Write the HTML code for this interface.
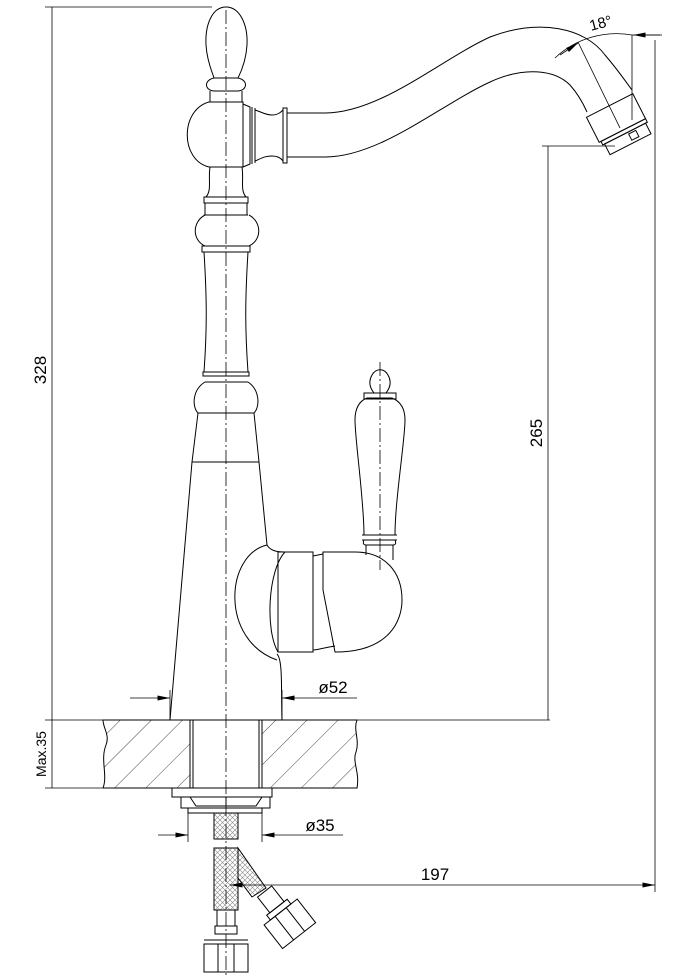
<!DOCTYPE html>
<html><head><meta charset="utf-8"><style>
html,body{margin:0;padding:0;background:#fff}
svg{display:block}
text{font-family:"Liberation Sans",sans-serif;fill:#000}
</style></head><body>
<svg width="693" height="978" viewBox="0 0 693 978" xmlns="http://www.w3.org/2000/svg">
<defs>
<pattern id="hatch" width="22" height="22" patternUnits="userSpaceOnUse" patternTransform="rotate(45)">
<line x1="0" y1="0" x2="0" y2="22" stroke="#333" stroke-width="0.9"/>
</pattern>
<pattern id="mesh" width="5" height="5" patternUnits="userSpaceOnUse">
<rect width="5" height="5" fill="#fff"/>
<path d="M0 0L5 5M5 0L0 5" stroke="#888" stroke-width="0.6"/>
</pattern>
<marker id="ar" viewBox="0 0 10 4" refX="10" refY="2" markerWidth="14" markerHeight="5" orient="auto" markerUnits="userSpaceOnUse"><path d="M0 0L10 2L0 4Z" fill="#000"/></marker>
</defs>
<g fill="none" stroke="#000" stroke-width="1">
<!-- finial -->
<path d="M226 7C212 7 205 25 206 45C207 62 213 74 214 78L238 78C240 74 246 62 247 45C248 25 240 7 226 7Z"/>
<path d="M214 78C204 80 204 90 214 91L238 91C248 90 248 80 238 78"/>
<line x1="210" y1="91" x2="210" y2="102"/><line x1="242" y1="91" x2="242" y2="102"/>
<!-- ball -->
<path d="M209 102C180 110 180 160 209 167L243 167L243 102Z"/>
<!-- spout connector -->
<path d="M243 104L250 107L250 164L243 167"/>
<line x1="252" y1="107" x2="252" y2="164"/><line x1="255" y1="108" x2="255" y2="163"/>
<path d="M255 110C262 112 265 115 272 115C278 115 281 112 283 110"/>
<path d="M255 161C262 158 265 156 272 156C278 156 281 158 283 161"/>
<rect x="283" y="108" width="4" height="55"/>
<line x1="287" y1="112" x2="287" y2="160"/>
<!-- spout tube -->
<path d="M287 113L325 113C380 113 440 60 490 37C540 18 585 28 605 55C618 70 626 82 632 90"/>
<path d="M287 157L325 157C380 157 440 105 490 82C525 66 555 70 570 85C578 94 583 103 587 112"/>
<line x1="578" y1="42" x2="620" y2="128" stroke-width="0.8"/>
<!-- aerator -->
<g transform="rotate(-27 616 118)">
<rect x="590" y="104" width="52" height="28"/>
<rect x="592" y="132" width="50" height="4"/>
<rect x="594" y="136" width="46" height="12"/>
<rect x="620" y="138" width="8" height="7"/>
</g>
<!-- lower neck -->
<path d="M210 167C208 180 212 190 206 197M242 167C244 180 240 190 246 197"/>
<rect x="204" y="197" width="44" height="6"/><line x1="204" y1="215" x2="248" y2="215"/>
<path d="M205 203L205 215M247 203L247 215"/>
<path d="M205 215C192 222 192 240 205 246L249 246C262 240 262 222 249 215"/>
<rect x="202" y="246" width="48" height="6"/>
<path d="M204 252C207 300 207 330 204 372M248 252C245 300 245 330 248 372"/>
<rect x="203" y="372" width="46" height="4"/>
<line x1="205" y1="382" x2="248" y2="382"/>
<path d="M205 382C192 390 192 407 198 413L254 413C260 407 260 390 248 382"/>
<path d="M198 413L192 462M254 413L259 462"/>
<line x1="192" y1="462" x2="259" y2="462"/>
<!-- body -->
<path d="M192 462L170 720"/>
<path d="M259 462L267 545C270 550 275 552 285 552"/>
<path d="M277 654C283 660 281 690 282 720"/>
<!-- handle housing -->
<path d="M267 545C225 555 220 640 277 660"/>
<path d="M285 552C268 570 265 630 278 652"/>
<rect x="278" y="552" width="35" height="100"/>
<path d="M313 556L323 554M313 650C318 650 322 648 335 646"/>
<path d="M323 552L323 590L335 652C390 652 402 620 402 600C402 572 385 552 355 552Z"/>
<!-- handle lever -->
<line x1="366" y1="545" x2="366" y2="555"/><line x1="393" y1="545" x2="393" y2="560"/>
<path d="M364 540Q362 545 366 545L393 545Q397 545 395 540Z"/>
<line x1="362" y1="535" x2="397" y2="535"/><line x1="362" y1="540" x2="397" y2="540"/>
<path d="M364 535C364 500 355 440 355 420C355 405 362 400 367 398L392 398C397 400 405 405 405 420C405 440 395 500 395 535"/>
<rect x="364" y="393" width="32" height="6"/>
<path d="M374 393C370 388 368 382 372 375C376 368 384 368 388 375C392 382 390 388 386 393"/>
<!-- countertop -->
<path d="M103 720L190 720L190 788L103 788C108 775 100 760 106 745C110 735 103 728 103 720Z" fill="url(#hatch)"/>
<path d="M262 720L357 720C353 730 360 740 356 752C352 762 360 772 357 788L262 788Z" fill="url(#hatch)"/>
<line x1="190" y1="720" x2="262" y2="720"/><line x1="190" y1="788" x2="262" y2="788"/>
<line x1="193" y1="720" x2="193" y2="788"/><line x1="259" y1="720" x2="259" y2="788"/>
<!-- nut -->
<rect x="172" y="788" width="100" height="9"/>
<path d="M181 797L181 808L270 808L270 797"/>
<path d="M190 797L196 806L256 806L262 797M226 797L226 806"/>
<rect x="188" y="808" width="74" height="5"/>
<!-- hoses -->
<rect x="214" y="813" width="24" height="26" fill="url(#mesh)"/>
<rect x="214" y="848" width="24" height="62" fill="url(#mesh)"/>
<path d="M238 848L266 888L252 897L238 878Z" fill="url(#mesh)"/>
<rect x="217" y="910" width="18" height="16"/>
<rect x="215" y="926" width="22" height="8"/>
<rect x="204" y="944" width="44" height="28"/>
<line x1="218" y1="944" x2="218" y2="972"/><line x1="234" y1="944" x2="234" y2="972"/>
<line x1="204" y1="940" x2="248" y2="940"/>
<g transform="rotate(-38 270 900)">
<rect x="262" y="890" width="18" height="20"/>
<rect x="258" y="910" width="26" height="6"/>
<rect x="250" y="916" width="42" height="30"/>
<line x1="264" y1="916" x2="264" y2="946"/><line x1="278" y1="916" x2="278" y2="946"/>
</g>
</g>
<!-- center lines -->
<g stroke="#000" stroke-width="0.8" stroke-dasharray="14 3 2 3" fill="none">
<line x1="226" y1="10" x2="226" y2="975"/>
<line x1="380" y1="362" x2="380" y2="570"/>
</g>
<!-- dimension lines -->
<g stroke="#000" stroke-width="0.8" fill="none">
<line x1="45" y1="7" x2="212" y2="7"/>
<line x1="52" y1="7" x2="52" y2="788"/>
<line x1="45" y1="720" x2="550" y2="720"/>
<line x1="45" y1="788" x2="103" y2="788"/>
<line x1="548" y1="146" x2="548" y2="720"/>
<line x1="542" y1="146" x2="615" y2="146"/>
<line x1="655" y1="40" x2="655" y2="892"/>
<line x1="632" y1="35" x2="662" y2="35"/>
<line x1="632" y1="35" x2="632" y2="120"/>
<line x1="230" y1="885" x2="655" y2="885" marker-end="url(#ar)"/>
<line x1="240" y1="885" x2="230" y2="885" marker-end="url(#ar)"/>
<path d="M555 58A90 90 0 0 1 632 35"/>
<line x1="560" y1="55" x2="578" y2="43" marker-end="url(#ar)"/>
<line x1="660" y1="35" x2="633" y2="35" marker-end="url(#ar)"/>
<line x1="170" y1="690" x2="170" y2="720"/><line x1="282" y1="690" x2="282" y2="720"/>
<line x1="130" y1="698" x2="170" y2="698" marker-end="url(#ar)"/>
<line x1="357" y1="698" x2="282" y2="698" marker-end="url(#ar)"/>
<line x1="188" y1="813" x2="188" y2="842"/><line x1="262" y1="813" x2="262" y2="842"/>
<line x1="158" y1="835" x2="188" y2="835" marker-end="url(#ar)"/>
<line x1="343" y1="835" x2="262" y2="835" marker-end="url(#ar)"/>
</g>
<text x="0" y="0" font-size="17" transform="translate(46 370) rotate(-90)" text-anchor="middle">328</text>
<text x="0" y="0" font-size="14" transform="translate(46 754) rotate(-90)" text-anchor="middle">Max.35</text>
<text x="0" y="0" font-size="17" transform="translate(542 433) rotate(-90)" text-anchor="middle">265</text>
<text x="435" y="880" font-size="17" text-anchor="middle">197</text>
<text x="333" y="693" font-size="17" text-anchor="middle">ø52</text>
<text x="320" y="831" font-size="17" text-anchor="middle">ø35</text>
<text x="0" y="0" font-size="15" transform="translate(602 28) rotate(-15)" text-anchor="middle">18°</text>
</svg>
</body></html>
